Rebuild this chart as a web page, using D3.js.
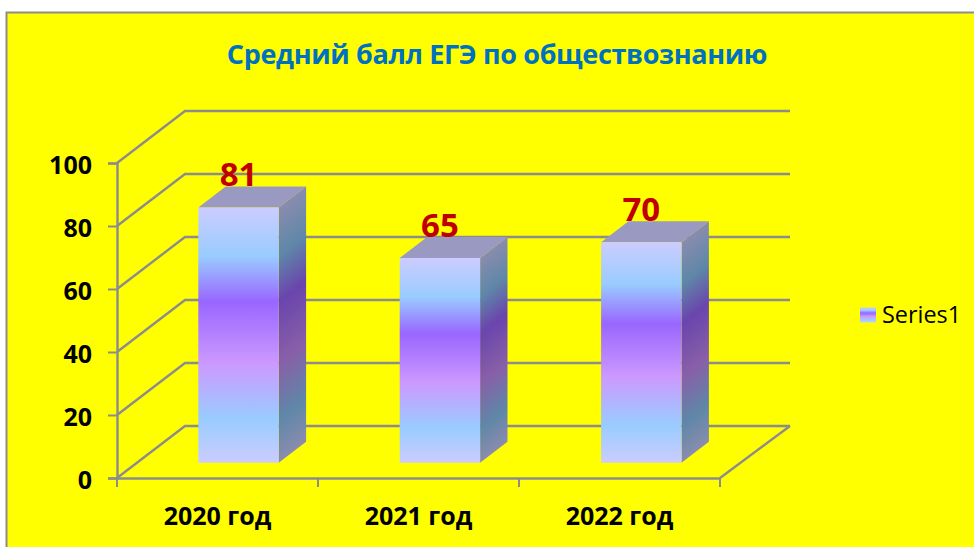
<!DOCTYPE html>
<html><head><meta charset="utf-8">
<script src="https://cdnjs.cloudflare.com/ajax/libs/d3/7.8.5/d3.min.js"></script>
<style>html,body{margin:0;padding:0;background:#fff;overflow:hidden}svg{display:block}text{font-family:"Open Sans",sans-serif}</style>
</head><body><svg id="c" width="974" height="547"></svg>
<script>
const chartTitle = "Средний балл ЕГЭ по обществознанию";
const categories = ["2020 год","2021 год","2022 год"];
const seriesName = "Series1";
const values = [81,65,70];
const yTicks = [0,20,40,60,80,100];

const grey="#8c8c8c";
const frontStops=[[0,"#ccccff"],[.19,"#99ccff"],[.37,"#9966ff"],[.61,"#cc99ff"],[.83,"#99ccff"],[1,"#ccccff"]];
const sideStops=[[0,"#8a8cae"],[.19,"#5f87a8"],[.37,"#6a45ad"],[.61,"#885fa8"],[.83,"#5f87a8"],[1,"#8a8cae"]];

const svg=d3.select("#c");
const defs=svg.append("defs");
function grad(id,stops,k){
  const g=defs.append("linearGradient").attr("id",id).attr("x1",0).attr("x2",0).attr("y1",0).attr("y2",1);
  if(k) g.attr("y1",k).attr("gradientTransform",`matrix(1,${-k},0,1,0,0)`);
  g.selectAll("stop").data(stops).join("stop").attr("offset",d=>d[0]).attr("stop-color",d=>d[1]);
}
grad("front",frontStops);

// plot geometry
const x0=117,x1=720,yBase=478,yTop=163,depthX=68,depthY=52;
const barOffX=21,barOffY=15.25,barDX=27.4,barDY=21;
const y=d3.scaleLinear().domain([0,100]).range([yBase,yTop]);
const x=d3.scaleBand().domain(categories).range([x0,x1]);
const barW=x.bandwidth()*0.4;

svg.append("rect").attr("x",6.5).attr("y",12.5).attr("width",980).attr("height",560)
  .attr("fill","#ffff00").attr("stroke",grey).attr("stroke-width",2);

const grid=svg.append("g").attr("fill","none").attr("stroke",grey).attr("stroke-width",2.4);
grid.selectAll("path").data(yTicks).join("path").attr("d",t=>{
  const p=d3.path(),yy=y(t);
  p.moveTo(x0,yy);p.lineTo(x0+depthX,yy-depthY);p.lineTo(x1+depthX+2,yy-depthY);
  return p.toString();
});
grid.append("path").attr("d",()=>{
  const p=d3.path();p.moveTo(x1,yBase);p.lineTo(x1+depthX+2,yBase-depthY);return p.toString();
});

const axL=svg.append("g").attr("transform",`translate(${x0},0)`)
  .call(d3.axisLeft(y).tickValues(yTicks).tickSize(9).tickPadding(16).tickFormat(d3.format("d")));
const axB=svg.append("g").attr("transform",`translate(0,${yBase})`)
  .call(d3.axisBottom(x).tickSize(0).tickPadding(29));
axB.selectAll(".tk").data(d3.range(categories.length+1)).join("line").attr("class","tk")
  .attr("x1",i=>x0+i*x.step()).attr("x2",i=>x0+i*x.step()).attr("y1",0).attr("y2",9)
  .attr("stroke",grey).attr("stroke-width",2);
[axL,axB].forEach(a=>{
  a.selectAll(".domain").attr("stroke",grey).attr("stroke-width",2.4);
  a.selectAll(".tick line").attr("stroke",grey).attr("stroke-width",2);
  a.selectAll("text").attr("fill","#000").attr("font-size",25).attr("font-weight",700)
   .style("font-family",'"Open Sans",sans-serif');
});
axL.selectAll(".tick text").attr("dy","0.41em");
axB.selectAll(".tick text").attr("dy","0.71em");

const bars=svg.append("g").selectAll("g").data(values).join("g");
bars.each(function(v,i){
  const g=d3.select(this);
  const cx=x(categories[i])+x.bandwidth()/2+barOffX+i*0.4;
  const L=cx-barW/2,R=cx+barW/2,B=yBase-barOffY,T=B-(yBase-y(v));
  const k=barDY/(B-T+barDY);
  grad("side"+i,sideStops,k);
  g.append("polygon").attr("points",[[L,T],[R,T],[R+barDX,T-barDY],[L+barDX,T-barDY]].join(" ")).attr("fill","#9999c2");
  g.append("polygon").attr("points",[[R,T],[R+barDX,T-barDY],[R+barDX,B-barDY],[R,B]].join(" ")).attr("fill",`url(#side${i})`);
  g.append("rect").attr("x",L).attr("y",T).attr("width",barW).attr("height",B-T).attr("fill","url(#front)");
  g.append("text").attr("x",cx).attr("y",T-21.5).attr("text-anchor","middle")
    .attr("font-size",33).attr("font-weight",700).attr("fill","#c00000").text(v);
});

svg.append("text").attr("x",497).attr("y",63.5).attr("text-anchor","middle")
  .attr("font-size",27).attr("letter-spacing",-0.35).attr("font-weight",700).attr("fill","#0070c0").text(chartTitle);

svg.append("rect").attr("x",860).attr("y",307.5).attr("width",16).attr("height",15).attr("fill","url(#front)");
svg.append("text").attr("x",882).attr("y",323).attr("font-size",23.4).attr("fill","#000").text(seriesName);
</script></body></html>
